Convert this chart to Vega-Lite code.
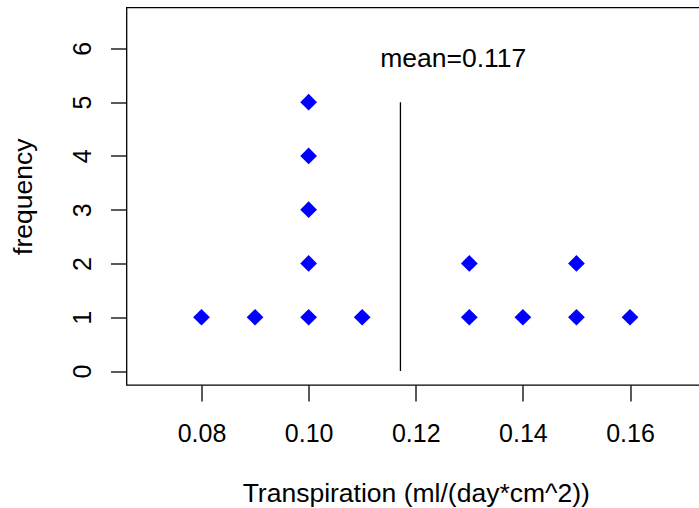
{
  "$schema": "https://vega.github.io/schema/vega-lite/v6.json",
  "width": 578.5,
  "height": 377.5,
  "autosize": {"type": "none"},
  "padding": {"left": 126.5, "top": 7.5, "right": 0, "bottom": 123},
  "background": "white",
  "config": {
    "view": {"stroke": "black", "strokeWidth": 1.3},
    "font": "Liberation Sans",
    "axis": {
      "domain": false,
      "grid": false,
      "tickColor": "black",
      "tickSize": 16,
      "tickWidth": 1.3,
      "labelFont": "Liberation Sans",
      "labelFontSize": 25,
      "labelColor": "black",
      "titleFont": "Liberation Sans",
      "titleFontSize": 26.5,
      "titleColor": "black",
      "titleFontWeight": "normal",
      "labelOverlap": false,
      "labelFlush": false
    }
  },
  "datasets": {
    "pts": [
      {"x": 0.08, "y": 1},
      {"x": 0.09, "y": 1},
      {"x": 0.10, "y": 1},
      {"x": 0.10, "y": 2},
      {"x": 0.10, "y": 3},
      {"x": 0.10, "y": 4},
      {"x": 0.10, "y": 5},
      {"x": 0.11, "y": 1},
      {"x": 0.13, "y": 1},
      {"x": 0.13, "y": 2},
      {"x": 0.14, "y": 1},
      {"x": 0.15, "y": 1},
      {"x": 0.15, "y": 2},
      {"x": 0.16, "y": 1}
    ],
    "meanline": [{"x": 0.11714, "y": 0, "y2": 5}],
    "label": [{"x": 0.127, "y": 5.8, "text": "mean=0.117"}]
  },
  "layer": [
    {
      "data": {"name": "pts"},
      "mark": {"type": "point", "shape": "diamond", "filled": true, "size": 280, "color": "#0000FF", "opacity": 1},
      "encoding": {
        "x": {
          "field": "x", "type": "quantitative",
          "scale": {"domain": [0.066, 0.174], "nice": false, "zero": false},
          "axis": {
            "title": "Transpiration (ml/(day*cm^2))",
            "values": [0.08, 0.10, 0.12, 0.14, 0.16],
            "format": ".2f",
            "labelBaseline": "top",
            "labelPadding": 20,
            "titleBaseline": "top",
            "titleY": 95.5
          }
        },
        "y": {
          "field": "y", "type": "quantitative",
          "scale": {"domain": [-0.26, 6.76], "nice": false, "zero": false},
          "axis": {
            "title": "frequency",
            "values": [0, 1, 2, 3, 4, 5, 6],
            "format": "d",
            "labelAngle": 270,
            "labelAlign": "center",
            "labelBaseline": "alphabetic",
            "labelPadding": 20,
            "titleAngle": 270,
            "titleBaseline": "alphabetic",
            "titleAlign": "center",
            "titleX": -95,
            "titleY": 188.75
          }
        }
      }
    },
    {
      "data": {"name": "meanline"},
      "mark": {"type": "rule", "color": "black", "strokeWidth": 1.3},
      "encoding": {
        "x": {"field": "x", "type": "quantitative"},
        "y": {"field": "y", "type": "quantitative"},
        "y2": {"field": "y2"}
      }
    },
    {
      "data": {"name": "label"},
      "mark": {"type": "text", "fontSize": 26.5, "font": "Liberation Sans", "color": "black", "align": "center", "baseline": "middle"},
      "encoding": {
        "x": {"field": "x", "type": "quantitative"},
        "y": {"field": "y", "type": "quantitative"},
        "text": {"field": "text"}
      }
    }
  ]
}
